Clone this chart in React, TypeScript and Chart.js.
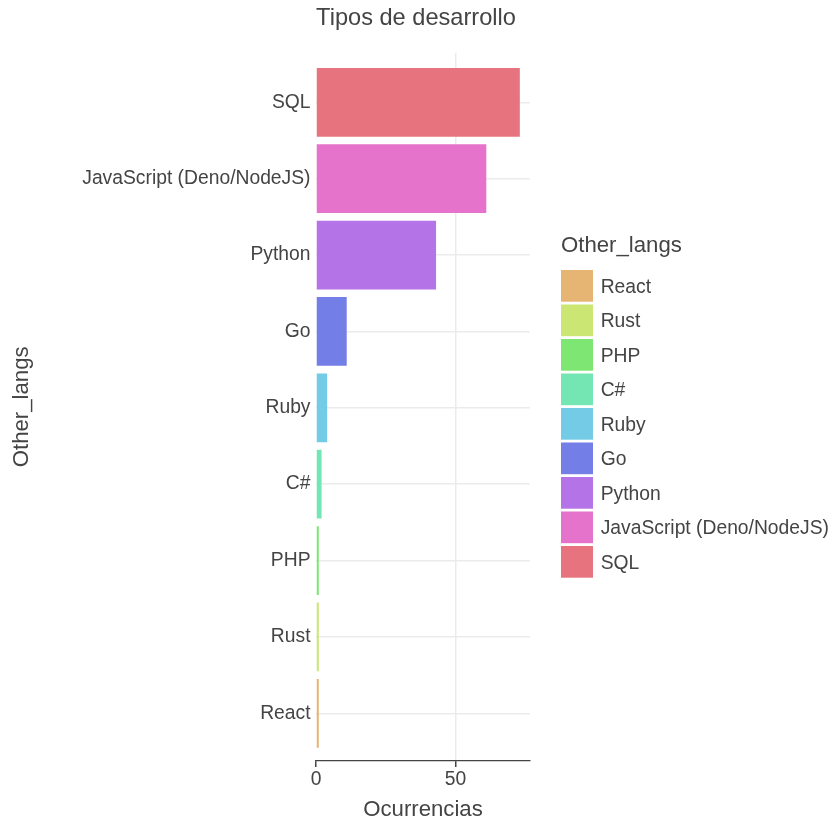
import React, { useEffect, useRef } from "react";
import { Chart, registerables } from "chart.js";

Chart.register(...registerables);

const chartTitle = "Tipos de desarrollo";
const xAxisTitle = "Ocurrencias";
const yAxisTitle = "Other_langs";
const legendTitle = "Other_langs";

// top-to-bottom order on the y axis
const categories = [
  "SQL",
  "JavaScript (Deno/NodeJS)",
  "Python",
  "Go",
  "Ruby",
  "C#",
  "PHP",
  "Rust",
  "React",
];
const occurrences = [73, 61, 43, 11, 4, 2, 1, 1, 1];
const barColors = [
  "#E6737E",
  "#E673CB",
  "#B473E6",
  "#737EE6",
  "#73CBE6",
  "#73E6B4",
  "#7EE673",
  "#CBE673",
  "#E6B473",
];
const xTickValues = [0, 50];
const xMax = 76.65;

const FONT = '"Liberation Sans", Arial, Helvetica, sans-serif';
const TEXT = "#444444";
const GRID = "#ebebeb";

const legendPlugin = {
  id: "sideLegend",
  afterDraw(chart: any) {
    const { ctx, chartArea } = chart;
    const x0 = chartArea.right + 31;
    ctx.save();
    ctx.fillStyle = TEXT;
    ctx.textAlign = "left";
    ctx.textBaseline = "alphabetic";
    ctx.font = `22.2px ${FONT}`;
    ctx.fillText(legendTitle, x0, 252);
    const items = categories.map((c, i) => ({ label: c, color: barColors[i] })).reverse();
    const top = 270;
    const step = 34.5;
    const boxW = 32;
    const boxH = 31.7;
    ctx.font = `19.3px ${FONT}`;
    items.forEach((it, i) => {
      const y = top + i * step;
      ctx.fillStyle = it.color;
      ctx.fillRect(x0, y, boxW, boxH);
      ctx.fillStyle = TEXT;
      ctx.fillText(it.label, x0 + 39.7, y + boxH / 2 + 6.9);
    });
    ctx.restore();
  },
};

export default function App() {
  const canvasRef = useRef<HTMLCanvasElement | null>(null);

  useEffect(() => {
    if (!canvasRef.current) return;
    const chart = new Chart(canvasRef.current, {
      type: "bar",
      data: {
        datasets: [
          {
            data: occurrences.map((v, i) => ({ x: v, y: i + 1 })),
            backgroundColor: barColors,
            borderWidth: 0,
            barPercentage: 0.9,
            categoryPercentage: 1,
          },
        ],
      },
      options: {
        indexAxis: "y",
        responsive: false,
        animation: false,
        devicePixelRatio: 1,
        layout: { padding: 0 },
        plugins: {
          legend: { display: false },
          tooltip: { enabled: false },
          title: {
            display: true,
            text: chartTitle,
            color: TEXT,
            font: { family: FONT, size: 23.6, weight: "normal" },
            padding: { top: 4.3, bottom: 20.1 },
          },
        },
        scales: {
          x: {
            type: "linear",
            position: "bottom",
            min: 0,
            max: xMax,
            offset: false,
            afterBuildTicks: (axis: any) => {
              axis.ticks = xTickValues.map((v) => ({ value: v }));
            },
            afterFit: (s: any) => {
              s.height = 63;
            },
            ticks: {
              color: TEXT,
              font: { family: FONT, size: 19.3 },
              padding: 1,
              maxRotation: 0,
            },
            grid: {
              offset: false,
              color: (c: any) => (c.tick && c.tick.value === 0 ? "rgba(0,0,0,0)" : GRID),
              tickColor: TEXT,
              tickLength: 6,
              lineWidth: 1.5,
            },
            border: { display: true, color: TEXT, width: 1.2 },
            title: {
              display: true,
              text: xAxisTitle,
              color: TEXT,
              font: { family: FONT, size: 22.2 },
              padding: { top: 0, bottom: 1 },
            },
          },
          y: {
            type: "linear",
            position: "left",
            reverse: true,
            offset: false,
            min: 0.35,
            max: 9.625,
            afterBuildTicks: (axis: any) => {
              axis.ticks = categories.map((_, i) => ({ value: i + 1 }));
            },
            afterFit: (s: any) => {
              s.width = 316;
            },
            ticks: {
              color: TEXT,
              font: { family: FONT, size: 19.3 },
              padding: 5.5,
              callback: (v: any) => categories[Math.round(Number(v)) - 1] ?? "",
            },
            grid: { offset: false, color: GRID, lineWidth: 1.5, drawTicks: false },
            border: { display: false },
            title: {
              display: true,
              text: yAxisTitle,
              color: TEXT,
              font: { family: FONT, size: 22.2 },
              padding: { top: 8.5, bottom: 0 },
            },
          },
          gap: {
            type: "linear",
            position: "right",
            display: true,
            afterFit: (s: any) => {
              s.width = 302;
            },
            grid: { display: false },
            border: { display: false },
            ticks: { display: false },
          },
        },
      } as any,
      plugins: [legendPlugin],
    });
    return () => chart.destroy();
  }, []);

  return (
    <div style={{ position: "absolute", left: 0, top: 0, width: 832, height: 824, background: "#fff" }}>
      <canvas ref={canvasRef} width={832} height={824} style={{ display: "block" }} />
    </div>
  );
}
